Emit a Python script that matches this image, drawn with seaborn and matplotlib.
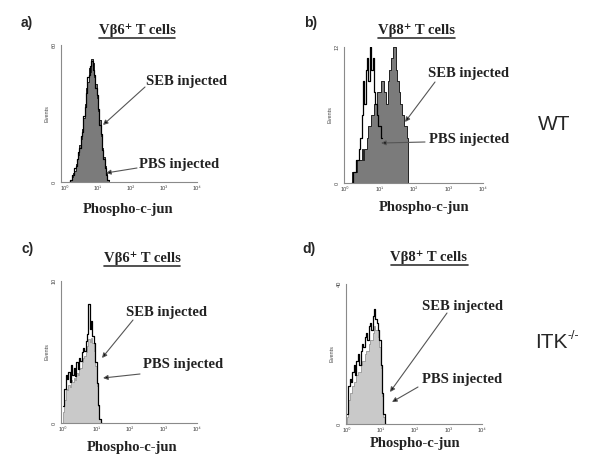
import numpy as np
import matplotlib
matplotlib.use("Agg")
import matplotlib.pyplot as plt
import seaborn as sns

# flow histograms, counts per 0.04-decade channel (log10 of Phospho-c-jun)
BIN = 0.04

# a) WT, Vb6+
a_start = 0.12
a_seb = [0, 1, 2, 4, 5, 8, 10, 12, 16, 19, 23, 28, 34, 41, 44, 50, 48, 54, 52, 46,
         43, 37, 31, 27, 20, 15, 11, 7, 4, 1]
a_pbs = [0, 1, 3, 3, 6, 7, 10, 13, 15, 20, 22, 29, 33, 39, 46, 47, 51, 53, 49, 47,
         41, 38, 32, 25, 21, 14, 10, 6, 3, 1]

# b) WT, Vb8+
b_start = 0.16
b_seb = [0, 1, 1, 1, 1, 2, 2, 2, 3, 2, 3, 3, 4, 5, 5, 6, 6, 7, 7, 8, 8, 8, 9, 9, 8,
         8, 7, 9, 10, 11, 11, 12, 12, 10, 9, 8, 7, 6, 6, 5, 5, 4, 0]
b_pbs = [0, 0, 1, 1, 2, 2, 3, 4, 6, 9, 7, 10, 11, 9, 12, 10, 11, 8, 7, 6, 5, 5, 4]

# c) ITK-/-, Vb6+
c_start = 0.0
c_seb = [1.2, 2.4, 3.4, 3.1, 3.6, 2.9, 4.1, 3.4, 3.9, 3.3, 4.3, 3.8, 4.6, 4.4, 5.0,
         5.3, 5.1, 5.8, 6.3, 8.4, 6.6, 7.2, 6.1, 5.6, 4.3, 2.8, 1.3, 0.3, 0]
c_pbs = [0.8, 1.6, 2.4, 2.3, 2.7, 2.5, 3.0, 2.9, 3.2, 3.0, 3.5, 3.4, 3.8, 3.9, 4.3,
         4.6, 4.7, 5.0, 5.4, 5.9, 5.7, 6.0, 5.6, 5.1, 4.0, 2.6, 1.2, 0.3, 0]

# d) ITK-/-, Vb8+
d_start = 0.0
d_seb = [3, 11, 13, 12, 15, 17, 14, 18, 20, 17, 21, 23, 22, 25, 26, 24, 28, 29, 27,
         31, 33, 30, 29, 27, 24, 17, 9, 3, 0]
d_pbs = [2, 7, 9, 9, 11, 12, 12, 14, 15, 15, 17, 18, 18, 20, 21, 21, 23, 24, 24, 26,
         28, 27, 27, 25, 22, 16, 8, 2, 0]

y_max = [60, 12, 10, 40]
decade_labels = ["10⁰", "10¹", "10²", "10³", "10⁴"]
titles = ["Vβ6⁺ T cells", "Vβ8⁺ T cells", "Vβ6⁺ T cells", "Vβ8⁺ T cells"]
letters = ["a)", "b)", "c)", "d)"]

sns.set_style("white")
plt.rcParams["font.family"] = ["Liberation Sans", "DejaVu Sans"]
SERIF = ["Liberation Serif", "DejaVu Serif"]

W, H = 600, 465
fig = plt.figure(figsize=(W / 100, H / 100), dpi=100)


def rect(l, t, r, b):
    return [l / W, 1 - b / H, (r - l) / W, (b - t) / H]


def hist(ax, start, counts, **kw):
    counts = np.asarray(counts, dtype=float)
    centers = start + BIN / 2 + BIN * np.arange(len(counts))
    sns.histplot(x=10 ** centers, weights=counts, binwidth=BIN,
                 binrange=(start, start + BIN * len(counts)), log_scale=True,
                 element="step", ax=ax, **kw)


panels = [
    # (axes rect in px, x-left in decades, seb, pbs, start, style)
    ((61, 45, 197, 182), -0.12, a_seb, a_pbs, a_start, "dark"),
    ((344, 47, 483, 183), -0.03, b_seb, b_pbs, b_start, "dark"),
    ((61, 281, 197, 423), -0.06, c_seb, c_pbs, c_start, "light"),
    ((346, 284, 482, 424), -0.03, d_seb, d_pbs, d_start, "light"),
]

for i, (r, x0, seb, pbs, start, style) in enumerate(panels):
    ax = fig.add_axes(rect(*r))
    if style == "dark":
        # SEB filled dark grey, PBS open black line
        hist(ax, start, seb, fill=True, color="#7b7b7b", alpha=1,
             edgecolor="#222222", linewidth=0.7)
        hist(ax, start, pbs, fill=False, color="black", linewidth=0.9)
    else:
        # PBS filled light grey, SEB black line
        hist(ax, start, pbs, fill=True, color="#c9c9c9", alpha=1,
             edgecolor="#888888", linewidth=0.5)
        hist(ax, start, seb, fill=False, color="black", linewidth=0.9)

    ax.set_xscale("log")
    ax.set_xlim(10 ** x0, 1e4)
    ax.set_ylim(0, y_max[i])
    ax.set_xticks([1, 10, 100, 1000, 10000])
    ax.set_xticklabels(decade_labels)
    ax.minorticks_off()
    ax.set_yticks(np.linspace(0, y_max[i], 5))
    ax.set_yticklabels(["0", "", "", "", str(y_max[i])], rotation=90, va="center")
    ax.tick_params(axis="both", length=2, width=0.6, color="#888888",
                   labelsize=4, labelcolor="#444444", pad=1)
    for s in ["top", "right"]:
        ax.spines[s].set_visible(False)
    for s in ["left", "bottom"]:
        ax.spines[s].set_color("#8a8a8a")
        ax.spines[s].set_linewidth(0.8)
    ax.set_ylabel("Events", fontsize=4, color="#444444", labelpad=2)
    ax.set_xlabel("")

# text layer in pixel coordinates
ov = fig.add_axes([0, 0, 1, 1], zorder=10)
ov.set_xlim(0, W)
ov.set_ylim(H, 0)
ov.axis("off")
ov.patch.set_alpha(0)

letter_pos = [(21, 23), (304, 23), (21, 249), (302, 249)]
title_pos = [(137, 30), (416, 30), (142, 258), (429, 257)]
xlabel_pos = [(128, 209), (424, 207), (132, 447), (415, 443)]
seb_pos = [(187, 81), (469, 74), (167, 312), (462, 306)]
pbs_pos = [(179, 164), (469, 139), (183, 364), (462, 379)]
seb_arrow = [((145, 87), (103, 125)), ((435, 82), (405, 122)),
             ((133, 320), (102, 358)), ((447, 313), (390, 392))]
pbs_arrow = [((137, 168), (106, 173)), ((425, 142), (381, 143)),
             ((140, 374), (103, 378)), ((418, 387), (392, 402))]

title_texts = []
for i in range(4):
    ov.text(*letter_pos[i], letters[i], fontsize=10, fontweight="bold",
            ha="left", va="center")
    t = ov.text(*title_pos[i], titles[i], fontsize=10.5, fontweight="bold",
                family=SERIF, ha="center", va="center", color="#222222")
    title_texts.append(t)
    ov.text(*xlabel_pos[i], "Phospho-c-jun", fontsize=10.5, fontweight="bold",
            family=SERIF, ha="center", va="center", color="#222222")
    ov.text(*seb_pos[i], "SEB injected", fontsize=10.5, fontweight="bold",
            family=SERIF, ha="center", va="center", color="#222222")
    ov.text(*pbs_pos[i], "PBS injected", fontsize=10.5, fontweight="bold",
            family=SERIF, ha="center", va="center", color="#222222")
    for start, tip in (seb_arrow[i], pbs_arrow[i]):
        ov.annotate("", xy=tip, xytext=start,
                    arrowprops=dict(arrowstyle="-|>", fc="black", ec="#555555",
                                    lw=0.8, mutation_scale=7, shrinkA=0, shrinkB=0))

ov.text(554, 124, "WT", fontsize=15, ha="center", va="center")
itk = ov.text(535, 342, "ITK", fontsize=15, ha="left", va="center")
fig.canvas.draw()
inv = ov.transData.inverted()
bb = itk.get_window_extent()
x_end = inv.transform([(bb.x1, bb.y1)])[0][0]
ov.text(x_end + 0.5, 336, "-/-", fontsize=9, ha="left", va="center")

# underline the panel titles
for t in title_texts:
    bb = t.get_window_extent()
    (xa, ya), (xb, yb) = inv.transform([(bb.x0, bb.y0), (bb.x1, bb.y0)])
    ov.plot([xa, xb], [ya + 1.2, yb + 1.2], color="#333333", lw=1.2)

fig.savefig("out.png", dpi=100)
